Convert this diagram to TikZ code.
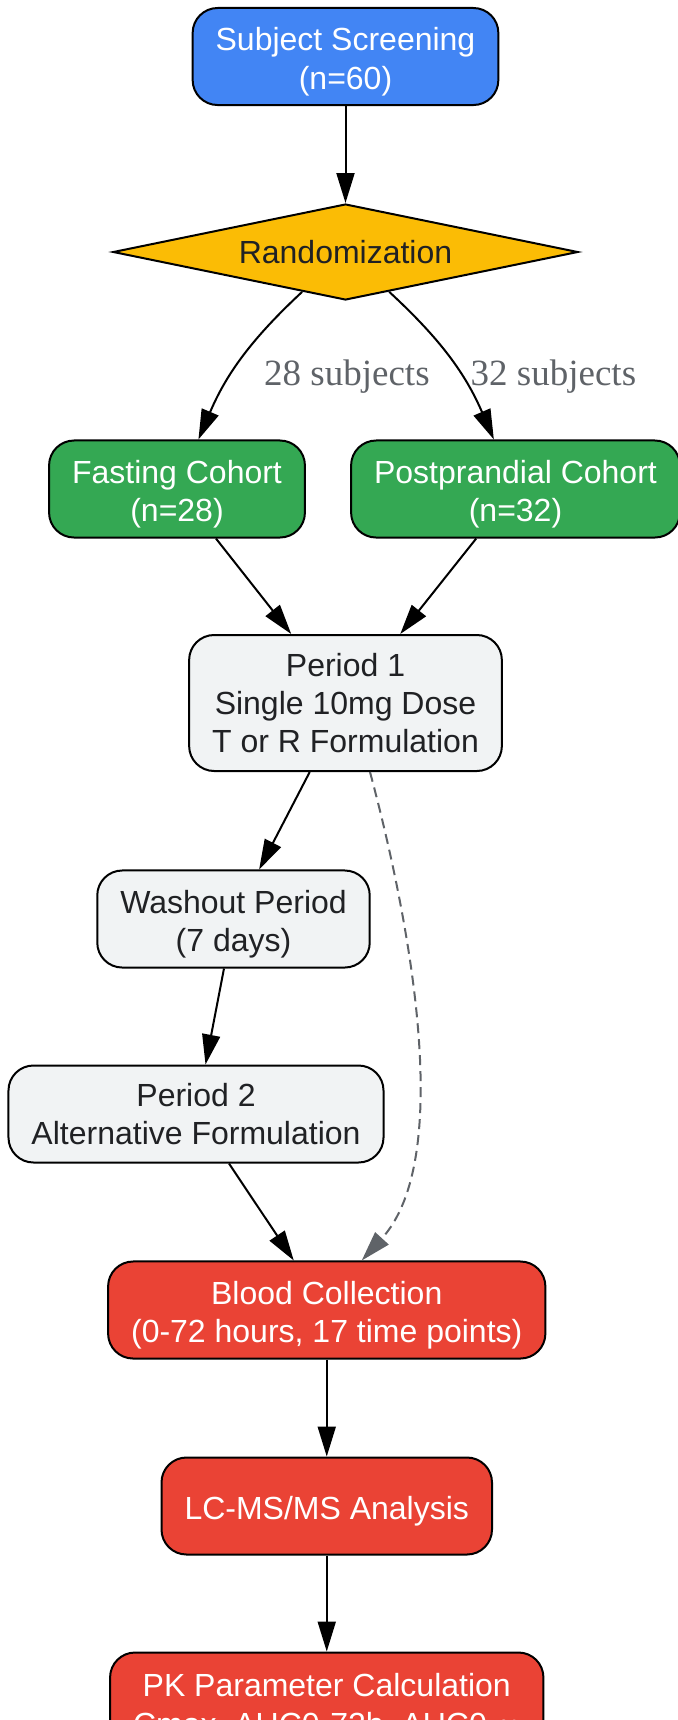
\documentclass[tikz,border=0pt]{standalone}
\usepackage{fontspec}
\setmainfont{Liberation Sans}
\newfontfamily\lblfont{Liberation Serif}
\usetikzlibrary{positioning,arrows.meta,shapes.geometric}

\definecolor{gblue}{HTML}{4285F4}
\definecolor{gyellow}{HTML}{FBBC05}
\definecolor{ggreen}{HTML}{34A853}
\definecolor{gred}{HTML}{EA4335}
\definecolor{glight}{HTML}{F1F3F4}
\definecolor{gdark}{HTML}{202124}
\definecolor{ggrey}{HTML}{5F6368}

% taller first line, pushes the text down a bit
\newcommand{\nodestrut}{\rule{0pt}{17pt}}

\tikzset{
    box/.style={draw=black, line width=1pt, rounded corners=12.5pt,
        minimum height=48.5pt, inner xsep=11.5pt, inner ysep=4.5pt,
        align=center, font=\fontsize{16}{19.2}\selectfont},
    bluebox/.style={box, fill=gblue, text=white},
    greenbox/.style={box, fill=ggreen, text=white},
    greybox/.style={box, fill=glight, text=gdark},
    redbox/.style={box, fill=gred, text=white},
    decision/.style={diamond, draw=black, line width=1pt, fill=gyellow,
        text=gdark, aspect=4.8, minimum width=232.5pt, minimum height=48pt,
        inner sep=0pt, font=\fontsize{16}{19.2}\selectfont},
    lbl/.style={text=ggrey, inner sep=0pt, font=\lblfont\fontsize{18.5}{22}\selectfont},
    arr/.style={-{Triangle[length=15pt,width=9pt]}, line width=1pt}
}

\begin{document}
\begin{tikzpicture}[x=0.5pt, y=-0.5pt]
    \useasboundingbox (0,0) rectangle (678,1720);
    \clip (0,0) rectangle (678,1720);

    % nodes
    \node[bluebox] (screen) at (345.5,56.5) {\nodestrut Subject Screening\\(n=60)};
    \node[decision] (rand) at (345.5,252) {Randomization};
    \node[greenbox] (fast) at (177,489) {\nodestrut Fasting Cohort\\(n=28)};
    \node[greenbox] (post) at (515.5,489) {\nodestrut Postprandial Cohort\\(n=32)};
    \node[greybox, minimum height=68pt] (p1) at (345.5,703) {Period 1\\Single 10mg Dose\\T or R Formulation};
    \node[greybox] (wash) at (233.5,919) {\nodestrut Washout Period\\(7 days)};
    \node[greybox] (p2) at (196,1114) {Period 2\\Alternative Formulation};
    \node[redbox] (blood) at (326.75,1310) {\nodestrut Blood Collection\\(0-72 hours, 17 time points)};
    \node[redbox] (lcms) at (326.75,1506) {\nodestrut LC-MS/MS Analysis};
    \node[redbox] (pk) at (326.75,1701) {\nodestrut PK Parameter Calculation\\Cmax, AUC0-72h, AUC0-∞};

    % edges
    \draw[arr] (screen) -- (rand);
    \draw[arr] (rand) to[bend right=12] node[lbl, pos=0.62, right=16.5pt] (l28) {28 subjects} (fast);
    \draw[arr] (rand) to[bend left=12] node[lbl, pos=0.62, right=4pt] (l32) {32 subjects} (post);
    \draw[arr] (fast) -- (p1);
    \draw[arr] (post) -- (p1);
    \draw[arr] (p1) -- (wash);
    \draw[arr] (wash) -- (p2);
    \draw[arr] (p2) -- (blood);
    \draw[arr, ggrey, dash pattern=on 5pt off 3pt]
        ([xshift=12.25pt]p1.south) .. controls +(40,149) and +(93,-102) .. ([xshift=17.5pt]blood.north);
    \draw[arr] (blood) -- (lcms);
    \draw[arr] (lcms) -- (pk);
\end{tikzpicture}
\end{document}
